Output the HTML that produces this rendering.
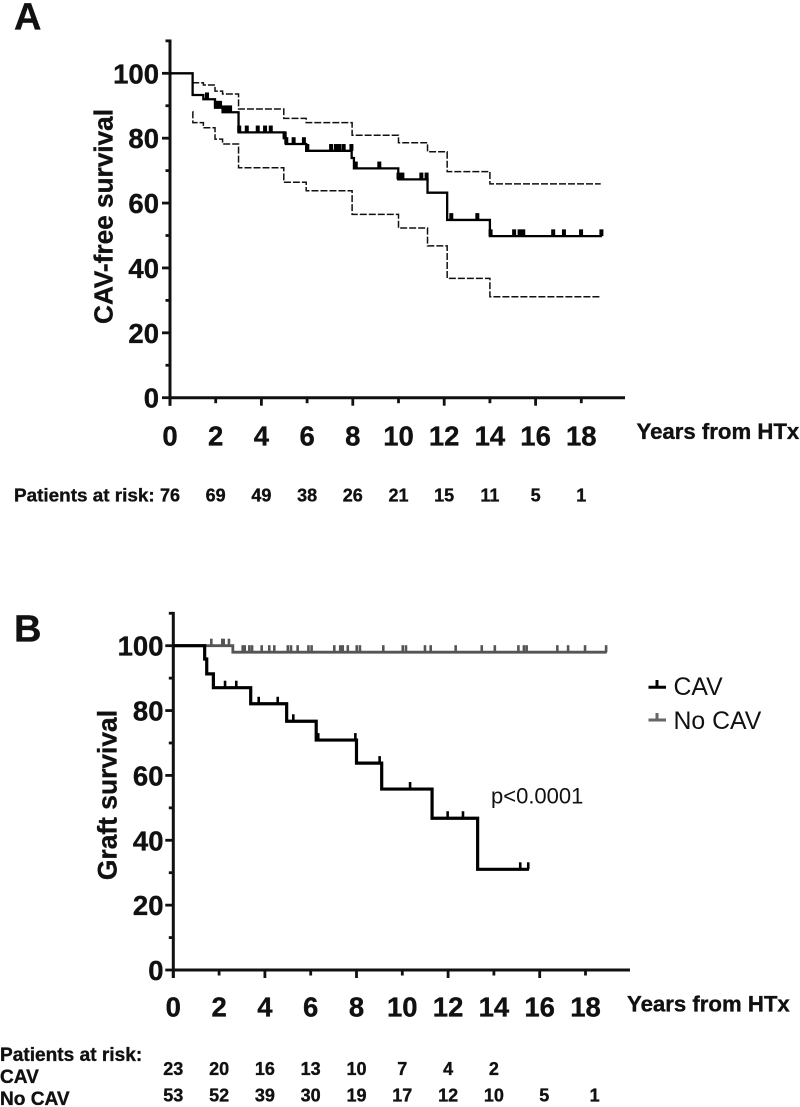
<!DOCTYPE html>
<html lang="en">
<head>
<meta charset="utf-8">
<title>CAV-free survival and graft survival</title>
<style>
html,body{margin:0;padding:0;background:#fff;}
body{width:800px;height:1107px;overflow:hidden;}
svg{display:block;font-family:"Liberation Sans",Arial,sans-serif;}
text{fill:#111;}
text[font-weight="700"]{stroke:#111;stroke-width:0.35px;}
</style>
</head>
<body>
<svg id="figure" width="800" height="1107" viewBox="0 0 800 1107" xmlns="http://www.w3.org/2000/svg">
  <rect x="0" y="0" width="800" height="1107" fill="#fff"/>
  <text x="14" y="29.5" font-size="38" font-weight="700">A</text>
  <text x="14" y="641.5" font-size="38" font-weight="700">B</text>
  <text transform="translate(112.5,216.5) rotate(-90)" text-anchor="middle" font-size="26.2" font-weight="700">CAV-free survival</text>
  <text transform="translate(116.5,795) rotate(-90)" text-anchor="middle" font-size="26.4" font-weight="700">Graft survival</text>
  <text x="636.5" y="439" font-size="22.2" font-weight="700">Years from HTx</text>
  <text x="627" y="1011.5" font-size="22.2" font-weight="700">Years from HTx</text>
  <text x="14" y="501.5" font-size="18.9" font-weight="700">Patients at risk:</text>
  <text x="0" y="1061" font-size="19.1" font-weight="700">Patients at risk:</text>
  <text x="0" y="1083" font-size="19.1" font-weight="700">CAV</text>
  <text x="0" y="1105" font-size="19.1" font-weight="700">No CAV</text>
  <text x="491" y="803.5" font-size="22">p&lt;0.0001</text>
  <g>
    <path d="M648.5 687.3H666M657 687.3V680" stroke="#000" stroke-width="3" fill="none"/>
    <text x="673.5" y="695" font-size="24.8">CAV</text>
    <path d="M648.5 720H666M657 720V713" stroke="#666" stroke-width="3" fill="none"/>
    <text x="673.5" y="729" font-size="24.8">No CAV</text>
  </g>
  <g id="plots"></g>
</svg>
<script>
// Axis tick values
var xTickValues = [0, 2, 4, 6, 8, 10, 12, 14, 16, 18];
var yTickValues = [0, 10, 20, 30, 40, 50, 60, 70, 80, 90, 100, 110];
var yLabelValues = [0, 20, 40, 60, 80, 100];

// Panel A: Kaplan-Meier estimate with confidence limits
var aMainTimes = [0, 0.99, 1.46, 1.97, 2.3, 3.0, 4.98, 5.07, 5.96, 7.95, 8.05, 9.99, 11.27, 12.13, 14.0, 18.9];
var aMainSurvival = [100, 93.3, 92, 89.4, 88, 81.8, 80, 78.2, 76.1, 73.9, 70.7, 67.3, 63.2, 54.8, 49.8, 49.8];
var aUpperTimes = [0.99, 0.99, 1.46, 1.97, 2.3, 3.0, 4.98, 5.96, 7.97, 10, 11.27, 12.13, 14, 18.85];
var aUpperSurvival = [100, 97.1, 96.4, 94.5, 93.6, 89, 86.1, 84.8, 80.9, 78.6, 75.8, 69.7, 65.9, 65.9];
var aLowerTimes = [0.99, 1.0, 1.46, 1.97, 2.3, 3.0, 4.98, 5.96, 7.97, 10, 11.27, 12.13, 14, 18.85];
var aLowerSurvival = [88.2, 84.8, 83.2, 79.7, 78.2, 70.9, 66.4, 63.8, 56.5, 52.3, 46.8, 36.8, 31.1, 31.1];
var aCensorTimes = [1.62, 2.01, 2.1, 2.19, 2.36, 2.51, 2.63, 3.03, 3.36, 3.84, 4.16, 4.41, 5.02, 5.09, 5.41, 5.86, 6.01, 7.05, 7.26, 7.41, 7.6, 7.94, 8.13, 9.16, 10.0, 10.17, 11.0, 11.23, 12.31, 13.45, 14.03, 15.06, 15.3, 15.46, 16.77, 17.24, 17.99, 18.88];
var aRiskYears = [0, 2, 4, 6, 8, 10, 12, 14, 16, 18];
var aRiskCounts = [76, 69, 49, 38, 26, 21, 15, 11, 5, 1];

// Panel B: graft survival by group
var bCavTimes = [0, 1.37, 1.46, 1.75, 3.38, 4.95, 6.24, 8.0, 9.1, 11.3, 13.29, 15.53];
var bCavSurvival = [100, 95.9, 91.3, 87.05, 82.1, 76.7, 70.9, 63.8, 55.8, 46.8, 31.05, 31.05];
var bCavCensorTimes = [2.26, 2.75, 3.73, 4.56, 5.24, 6.33, 7.95, 9.01, 10.34, 11.98, 12.65, 15.15, 15.5];
var bNoCavTimes = [0, 2.6, 18.93];
var bNoCavSurvival = [100, 98, 98];
var bNoCavCensorTimes = [1.66, 2.14, 2.2, 2.43, 3.03, 3.12, 3.32, 3.44, 3.86, 4.19, 4.41, 5.0, 5.14, 5.43, 5.9, 6.04, 7.03, 7.29, 7.4, 7.62, 8.01, 8.15, 9.17, 10.02, 10.16, 10.99, 11.24, 12.33, 13.47, 14.04, 15.07, 15.31, 15.43, 16.77, 17.24, 17.98, 18.9];
var bCavRiskYears = [0, 2, 4, 6, 8, 10, 12, 14];
var bCavRiskCounts = [23, 20, 16, 13, 10, 7, 4, 2];
var bNoCavRiskYears = [0, 2, 4, 6, 8, 10, 12, 14, 16.2, 18.4];
var bNoCavRiskCounts = [53, 52, 39, 30, 19, 17, 12, 10, 5, 1];

var SVG_NS = 'http://www.w3.org/2000/svg';
var plots = document.getElementById('plots');

function make(tag, attrs, parent) {
  var el = document.createElementNS(SVG_NS, tag);
  for (var k in attrs) { el.setAttribute(k, attrs[k]); }
  parent.appendChild(el);
  return el;
}
function scaleX(x0, pxPerYear) { return function (t) { return x0 + t * pxPerYear; }; }
function scaleY(y0, pxPerUnit) { return function (v) { return y0 - v * pxPerUnit; }; }
function stepPath(times, values, x, y) {
  var d = 'M' + x(times[0]).toFixed(2) + ' ' + y(values[0]).toFixed(2);
  for (var i = 1; i < times.length; i++) {
    d += 'H' + x(times[i]).toFixed(2) + 'V' + y(values[i]).toFixed(2);
  }
  return d;
}
function levelAt(times, values, t) {
  var level = values[0];
  for (var i = 0; i < times.length; i++) { if (times[i] <= t) { level = values[i]; } }
  return level;
}
function drawAxes(group, x, y, xEnd, labelRight, xLabelBase) {
  var axes = make('path', {
    d: 'M' + x(0) + ' ' + (y(110) - 1.4) + 'V' + (y(0) + 8) + 'M' + x(0) + ' ' + y(0) + 'H' + xEnd,
    stroke: '#111', 'stroke-width': 3, fill: 'none'
  }, group);
  
  
  yTickValues.forEach(function (v) {
    var len = v % 20 === 0 ? 8 : 4.5;
    var tick = make('line', { x1: x(0) - len, x2: x(0), y1: y(v), y2: y(v), stroke: '#111', 'stroke-width': 2.8 }, group);
    
    
  });
  yLabelValues.forEach(function (v) {
    var label = make('text', { x: labelRight, y: y(v) + 10, 'text-anchor': 'end', 'font-size': 27.5, 'font-weight': 700 }, group);
    label.textContent = String(v);
    
    
  });
  xTickValues.forEach(function (t, i) {
    var len = i % 2 === 0 ? 8 : 5.5;
    var tick = make('line', { x1: x(t), x2: x(t), y1: y(0), y2: y(0) + len, stroke: '#111', 'stroke-width': 2.8 }, group);
    
    
    var label = make('text', { x: x(t), y: xLabelBase, 'text-anchor': 'middle', 'font-size': 27.5, 'font-weight': 700 }, group);
    label.textContent = String(t);
    
    
  });
}
function drawCurve(group, times, values, x, y, stroke, width, dash) {
  var attrs = { d: stepPath(times, values, x, y), fill: 'none', stroke: stroke, 'stroke-width': width };
  if (dash) { attrs['stroke-dasharray'] = dash; }
  return make('path', attrs, group);
}
function drawCensors(group, censorTimes, times, values, x, y, stroke, width, height) {
  censorTimes.forEach(function (t) {
    var level = y(levelAt(times, values, t));
    var mark = make('line', { x1: x(t), x2: x(t), y1: level, y2: level - height, stroke: stroke, 'stroke-width': width }, group);
    
    
  });
}
function drawRisk(group, years, counts, x, baseline) {
  years.forEach(function (yr, i) {
    var label = make('text', { x: x(yr), y: baseline, 'text-anchor': 'middle', 'font-size': 18, 'font-weight': 700 }, group);
    label.textContent = String(counts[i]);
    
    
  });
}

// Panel A
var xA = scaleX(170, 22.85);
var yA = scaleY(397.7, 3.244);
var groupA = make('g', {}, plots);


drawAxes(groupA, xA, yA, 625, 159, 445.7);
var upperA = drawCurve(groupA, aUpperTimes, aUpperSurvival, xA, yA, '#111', 1.5, '7 2');


var lowerA = drawCurve(groupA, aLowerTimes, aLowerSurvival, xA, yA, '#111', 1.5, '7 2');


var mainA = drawCurve(groupA, aMainTimes, aMainSurvival, xA, yA, '#000', 2.3);


drawCensors(groupA, aCensorTimes, aMainTimes, aMainSurvival, xA, yA, '#000', 4, 6.8);
drawRisk(groupA, aRiskYears, aRiskCounts, xA, 501.5);

// Panel B
var xB = scaleX(173.3, 22.9);
var yB = scaleY(970, 3.243);
var groupB = make('g', {}, plots);


drawAxes(groupB, xB, yB, 630, 163.5, 1016.7);
var noCavLine = drawCurve(groupB, bNoCavTimes, bNoCavSurvival, xB, yB, '#555', 2.8);


drawCensors(groupB, bNoCavCensorTimes, bNoCavTimes, bNoCavSurvival, xB, yB, '#555', 2.6, 7);
var cavLine = drawCurve(groupB, bCavTimes, bCavSurvival, xB, yB, '#000', 3.2);


drawCensors(groupB, bCavCensorTimes, bCavTimes, bCavSurvival, xB, yB, '#000', 2.6, 7);
drawRisk(groupB, bCavRiskYears, bCavRiskCounts, xB, 1075);
drawRisk(groupB, bNoCavRiskYears, bNoCavRiskCounts, xB, 1101.5);
</script>
</body>
</html>
